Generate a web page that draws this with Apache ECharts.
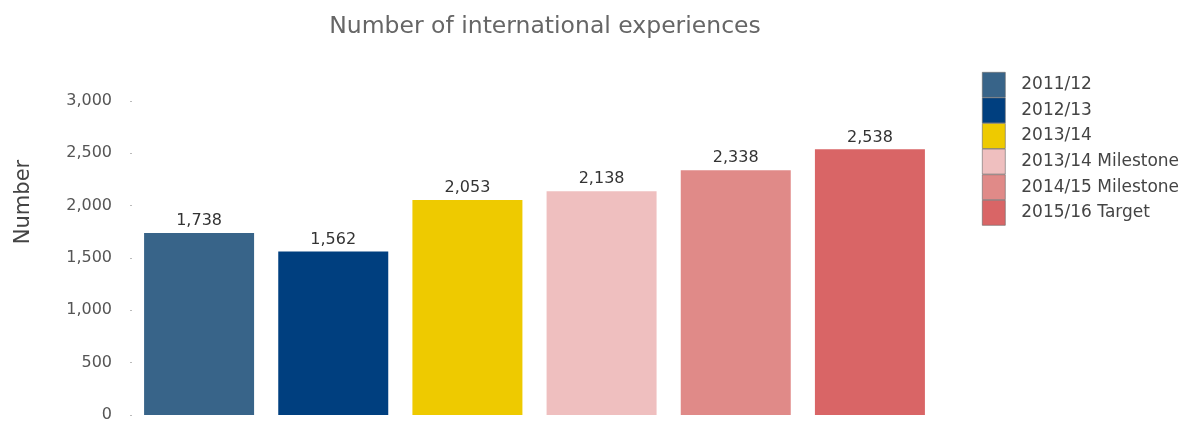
<!DOCTYPE html>
<html>
<head>
<meta charset="utf-8">
<script src="https://cdn.jsdelivr.net/npm/echarts@6/dist/echarts.min.js"></script>
<style>
  html, body { margin: 0; padding: 0; background: #fff; }
  #chart { width: 1184px; height: 423px; }
</style>
</head>
<body>
<div id="chart"></div>
<script>
// Periods shown, one bar (and one legend entry) each
const periods = ['2011/12', '2012/13', '2013/14', '2013/14 Milestone', '2014/15 Milestone', '2015/16 Target'];
// Number of international experiences per period
const counts = [1738, 1562, 2053, 2138, 2338, 2538];
// Bar colours per period
const colors = ['#386489', '#003f7f', '#eeca00', '#efbfbf', '#e08a88', '#d96566'];
// Value axis ticks
const yTicks = [0, 500, 1000, 1500, 2000, 2500, 3000];

const fmt = v => v.toLocaleString('en-US');
const FONT = 'DejaVu Sans, Verdana, sans-serif';

const series = periods.map((name, i) => ({
  name: name,
  type: 'bar',
  stack: 'all',
  barWidth: 110,
  data: counts.map((v, j) => (j === i ? v : null)),
  itemStyle: { color: colors[i] },
  label: {
    show: true,
    position: 'top',
    distance: 4,
    color: '#333',
    fontFamily: FONT,
    fontSize: 16,
    formatter: p => fmt(p.value)
  }
}));

const chart = echarts.init(document.getElementById('chart'), null, { renderer: 'canvas' });
chart.setOption({
  animation: false,
  title: {
    text: 'Number of international experiences',
    left: 540,
    textAlign: 'center',
    top: 10,
    textStyle: {
      fontFamily: FONT,
      fontWeight: 'normal',
      fontSize: 23.5,
      color: '#666'
    }
  },
  legend: {
    orient: 'vertical',
    left: 977,
    top: 67,
    itemWidth: 23,
    itemHeight: 25,
    itemGap: 0,
    icon: 'rect',
    data: periods,
    itemStyle: { borderColor: '#666', borderWidth: 0.6 },
    textStyle: {
      fontFamily: FONT,
      fontSize: 17,
      color: '#444',
      padding: [0, 0, 0, 11]
    },
    selectedMode: false
  },
  grid: { left: 132, right: 247, top: 101, bottom: 4, containLabel: false },
  xAxis: {
    type: 'category',
    data: periods,
    axisLine: { show: false },
    axisTick: { show: false },
    axisLabel: { show: false }
  },
  yAxis: {
    type: 'value',
    min: yTicks[0],
    max: yTicks[yTicks.length - 1],
    interval: yTicks[1] - yTicks[0],
    name: 'Number',
    nameLocation: 'middle',
    nameRotate: 90,
    nameGap: 98,
    nameTextStyle: {
      fontFamily: FONT,
      fontSize: 21,
      color: '#444',
      padding: [0, 0, 0, 112]
    },
    axisLine: { show: false },
    axisTick: { show: true, length: 2, lineStyle: { color: '#bbb' } },
    splitLine: { show: false },
    axisLabel: {
      margin: 20,
      fontFamily: FONT,
      fontSize: 16,
      color: '#555',
      formatter: v => fmt(v)
    }
  },
  series: series
});
</script>
</body>
</html>
